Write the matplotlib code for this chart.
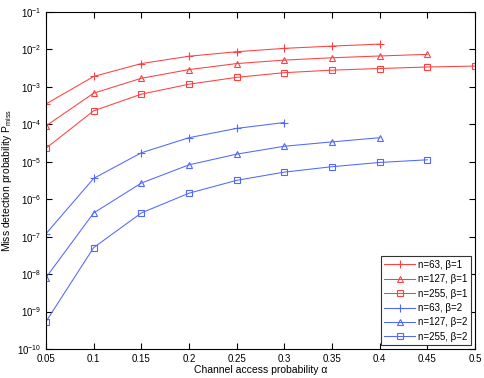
import matplotlib.pyplot as plt
import numpy as np

plt.rcParams['font.family'] = ['Liberation Sans', 'DejaVu Sans']
plt.rcParams['mathtext.fontset'] = 'custom'
plt.rcParams['mathtext.rm'] = 'Liberation Sans'
plt.rcParams['mathtext.it'] = 'Liberation Sans'

alpha = [0.05, 0.1, 0.15, 0.2, 0.25, 0.3, 0.35, 0.4, 0.45, 0.5]

# beta = 1
p63_b1 = [3.5e-4, 1.9e-3, 4.2e-3, 6.6e-3, 8.7e-3, 1.07e-2, 1.23e-2, 1.39e-2]
p127_b1 = [9.1e-5, 6.8e-4, 1.7e-3, 2.9e-3, 4.2e-3, 5.2e-3, 6.0e-3, 6.7e-3, 7.4e-3]
p255_b1 = [2.3e-5, 2.3e-4, 6.4e-4, 1.18e-3, 1.8e-3, 2.4e-3, 2.8e-3, 3.1e-3, 3.4e-3, 3.6e-3]

# beta = 2
p63_b2 = [1.2e-7, 3.6e-6, 1.74e-5, 4.4e-5, 7.8e-5, 1.12e-4]
p127_b2 = [8.1e-9, 4.3e-7, 2.7e-6, 8.3e-6, 1.6e-5, 2.6e-5, 3.4e-5, 4.4e-5]
p255_b2 = [5.4e-10, 5.1e-8, 4.3e-7, 1.45e-6, 3.2e-6, 5.3e-6, 7.4e-6, 9.6e-6, 1.13e-5]

series = [
    (p63_b1, 'n=63, β=1', '+', '#ff4040'),
    (p127_b1, 'n=127, β=1', '^', '#ff4040'),
    (p255_b1, 'n=255, β=1', 's', '#ff4040'),
    (p63_b2, 'n=63, β=2', '+', '#5068ff'),
    (p127_b2, 'n=127, β=2', '^', '#5068ff'),
    (p255_b2, 'n=255, β=2', 's', '#5068ff'),
]

fig = plt.figure(figsize=(4.85, 3.78), dpi=100)
ax = fig.add_axes([0.0948, 0.0767, 0.8846, 0.8915])

for vals, label, marker, color in series:
    ax.semilogy(
        alpha[:len(vals)], vals, color=color, marker=marker,
        markersize=6 if marker == '+' else 4.5, markerfacecolor='none',
        markeredgecolor=color, markeredgewidth=0.8, linewidth=0.75, label=label
    )

ax.set_xlim(0.05, 0.5)
ax.set_ylim(1e-10, 1e-1)
ax.set_xticks(alpha)
ax.set_xticklabels(['0.05', '0.1', '0.15', '0.2', '0.25', '0.3', '0.35', '0.4', '0.45', '0.5'])
ax.set_yticks([10.0 ** k for k in range(-10, 0)])
ax.tick_params(which='both', direction='in', top=True, right=True, labelsize=7)
ax.tick_params(which='major', length=4)
ax.tick_params(which='minor', length=2)
for s in ax.spines.values():
    s.set_linewidth(0.8)

ax.set_xlabel('Channel access probability α', fontsize=7.5, labelpad=1)
ax.set_ylabel('Miss detection probability P$_{\\rm miss}$', fontsize=7.5, labelpad=2)

leg = ax.legend(loc='lower right', fontsize=7, fancybox=False, framealpha=1,
                edgecolor='#333333', borderpad=0.35, labelspacing=0.45,
                handlelength=3.2, handletextpad=0.3, borderaxespad=0.4)
leg.get_frame().set_linewidth(0.8)

fig.savefig('out.png', dpi=100)
